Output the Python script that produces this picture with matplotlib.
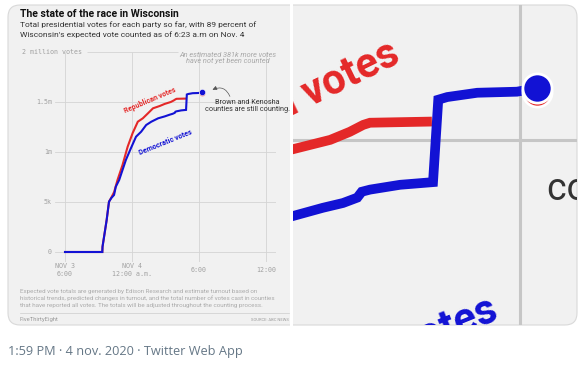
import matplotlib
matplotlib.use("Agg")
import matplotlib.pyplot as plt
from matplotlib.patches import FancyBboxPatch, Rectangle
from matplotlib.lines import Line2D
from matplotlib.transforms import IdentityTransform

W, H = 582, 371

# hours after 6:00 p.m. on Nov. 3 and cumulative votes
dem_hours = [0, 3.34, 3.36, 3.55, 3.73, 3.94, 4.15, 4.39, 4.55, 4.85, 5.15, 5.45, 5.91,
             6.36, 6.82, 7.27, 7.73, 8.34, 8.93, 9.37, 9.64, 9.83, 9.89, 10.0, 10.4,
             10.84, 10.91, 11.03, 11.43, 11.96, 12.23]
dem_votes = [0, 0, 53e3, 190e3, 320e3, 503e3, 540e3, 570e3, 653e3, 720e3, 820e3, 920e3,
             1040e3, 1153e3, 1203e3, 1270e3, 1303e3, 1337e3, 1356e3, 1373e3, 1382e3,
             1392e3, 1403e3, 1407e3, 1416e3, 1421e3, 1575e3, 1580e3, 1588e3, 1590e3, 1597e3]
rep_hours = [0, 3.34, 3.36, 3.55, 3.73, 3.94, 4.15, 4.4, 4.7, 5.15, 5.61, 6.06, 6.52,
             6.97, 7.43, 7.88, 8.48, 8.93, 9.47, 9.73, 9.91, 10.0, 10.76]
rep_votes = [0, 0, 53e3, 190e3, 320e3, 503e3, 545e3, 600e3, 720e3, 870e3, 1053e3, 1190e3,
             1303e3, 1337e3, 1387e3, 1437e3, 1460e3, 1481e3, 1500e3, 1515e3, 1528e3,
             1532e3, 1534e3]
dot_hour = 12.23
dem_dot = 1597e3
rep_dot = 1590e3

x_ticks = [0, 6, 12, 18]
x_tick_labels = ["NOV 3\n6:00", "NOV 4\n12:00 a.m.", "6:00", "12:00"]
y_ticks = [0, 500e3, 1000e3, 1500e3]
y_tick_labels = ["0", "5k", "1m", "1.5m"]
y_top = 2000e3
y_top_label = "2 million votes"

RED = "#e42828"
BLUE = "#1212d4"
GRID = "#d4d4d4"
BG = "#f1f1f1"
SANS = ["Roboto", "DejaVu Sans"]
MONO = "DejaVu Sans Mono"


def fx(x):
    return x / W


def fy(y):
    return 1 - y / H


fig = plt.figure(figsize=(W / 100, H / 100), dpi=100)
fig.patch.set_facecolor("white")

# tweet media container
card = FancyBboxPatch((8, H - 325), 569, 320, boxstyle="round,pad=0,rounding_size=12",
                      transform=IdentityTransform(), facecolor=BG, edgecolor="#d9d9d9",
                      linewidth=0.8, zorder=-2)
fig.add_artist(card)
fig.add_artist(Rectangle((290, H - 326), 3, 322, transform=IdentityTransform(),
                         facecolor="white", edgecolor="none", zorder=-1))

# ---- left: full chart ----
ax = fig.add_axes([fx(55), fy(262), fx(221), 210 / H])
ax.set_xlim(-0.896, 18.895)
ax.set_ylim(-100e3, 2000e3)
ax.axis("off")

for v in y_ticks:
    ax.axhline(v, color=GRID, lw=0.6, zorder=0)
for h in x_ticks:
    ax.vlines(h, -100e3, 2000e3, color=GRID, lw=0.6, zorder=0)
ax.hlines(y_top, 1.97, 10.1, color=GRID, lw=0.6, zorder=0, clip_on=False)

for v, lab in zip(y_ticks, y_tick_labels):
    ax.text(-1.16, v, lab, ha="right", va="center", family=MONO, fontsize=4.8,
            color="#a0a0a0", clip_on=False)
ax.text(-3.85, y_top, y_top_label, ha="left", va="center", family=MONO, fontsize=4.8,
        color="#a0a0a0", clip_on=False)
for h, lab in zip(x_ticks, x_tick_labels):
    ax.text(h, -180e3, lab, ha="center", va="center", family=MONO, fontsize=4.8,
            color="#a0a0a0", linespacing=1.5, clip_on=False)

ax.plot(rep_hours, rep_votes, color=RED, lw=1.5, solid_joinstyle="miter")
ax.plot(dem_hours, dem_votes, color=BLUE, lw=1.5, solid_joinstyle="miter")
ax.plot([dot_hour], [rep_dot], "o", color=RED, ms=4.5, mec="white", mew=0.4)
ax.plot([dot_hour], [dem_dot], "o", color=BLUE, ms=4.5, mec="white", mew=0.4)

ax.text(7.61, 1520e3, "Republican votes", rotation=23, rotation_mode="anchor",
        ha="center", va="center", family=SANS, fontsize=5.1, weight="bold", color=RED)
ax.text(9.04, 1090e3, "Democratic votes", rotation=22, rotation_mode="anchor",
        ha="center", va="center", family=SANS, fontsize=5.1, weight="bold", color=BLUE)
ax.text(14.55, 1940e3, "An estimated 381k more votes\nhave not yet been counted",
        ha="center", va="center", family=SANS, fontsize=5.3, style="italic",
        color="#a8a8a8", linespacing=1.05, clip_on=False)
ax.text(16.3, 1460e3, "Brown and Kenosha\ncounties are still counting.", ha="center",
        va="center", family=SANS, fontsize=5.2, color="#333333", linespacing=1.1,
        clip_on=False)
ax.annotate("", xy=(12.98, 1610e3), xytext=(14.86, 1530e3),
            arrowprops=dict(arrowstyle="-|>,head_length=0.25,head_width=0.12",
                            connectionstyle="arc3,rad=0.6", color="#555555", lw=0.5))

fig.text(fx(20), fy(14), "The state of the race in Wisconsin", family=SANS,
         fontsize=7.5, weight="bold", color="#111111", va="center")
fig.text(fx(20), fy(25), "Total presidential votes for each party so far, with 89 percent of",
         family=SANS, fontsize=6.0, color="#333333", va="center")
fig.text(fx(20), fy(35), "Wisconsin's expected vote counted as of 6:23 a.m on Nov. 4",
         family=SANS, fontsize=6.0, color="#333333", va="center")

footer = ["Expected vote totals are generated by Edison Research and estimate turnout based on",
          "historical trends, predicted changes in turnout, and the total number of votes cast in counties",
          "that have reported all votes. The totals will be adjusted throughout the counting process."]
for i, line in enumerate(footer):
    fig.text(fx(20), fy(292 + 6.5 * i), line, family=SANS, fontsize=4.5, color="#ababab",
             va="center")
fig.add_artist(Line2D([fx(20), fx(289)], [fy(313), fy(313)], color="#cccccc", lw=0.5))
fig.text(fx(20), fy(320), "FiveThirtyEight", family=SANS, fontsize=4.2, color="#9a9a9a",
         va="center")
fig.text(fx(289), fy(320), "SOURCE: ABC NEWS", family=SANS, fontsize=3.0, color="#9a9a9a",
         va="center", ha="right")

# ---- right: zoomed crop of the same chart ----
az = fig.add_axes([fx(293), fy(325), fx(284), 320 / H])
az.set_xlim(8.973, 12.76)
az.set_ylim(1154e3, 1752e3)
az.axis("off")
az.axhline(1500e3, color="#c6c6c6", lw=2.2, zorder=0)
az.axvline(12, color="#c6c6c6", lw=2.2, zorder=0)
az.plot(rep_hours, rep_votes, color=RED, lw=7, solid_joinstyle="miter")
az.plot(dem_hours, dem_votes, color=BLUE, lw=7, solid_joinstyle="miter")
az.plot([dot_hour], [rep_dot], "o", color=RED, ms=21, mec="white", mew=2)
az.plot([dot_hour], [dem_dot], "o", color=BLUE, ms=21, mec="white", mew=2)
az.text(10.43, 1646e3, "Republican votes", rotation=26, rotation_mode="anchor",
        ha="right", va="baseline", family=SANS, fontsize=30, weight="bold", color=RED,
        clip_on=True)
az.text(11.73, 1165e3, "Democratic votes", rotation=22, rotation_mode="anchor",
        ha="right", va="baseline", family=SANS, fontsize=30, weight="bold", color=BLUE,
        clip_on=True)
az.text(12.36, 1388e3, "counties are still counting.", ha="left", va="baseline",
        family=SANS, fontsize=27, color="#333333", clip_on=True)

fig.text(fx(8), fy(351), "1:59 PM \u00b7 4 nov. 2020 \u00b7 Twitter Web App",
         family=["Open Sans", "DejaVu Sans"], fontsize=9.2, color="#657786", va="center")

fig.savefig("out.png", dpi=100)
